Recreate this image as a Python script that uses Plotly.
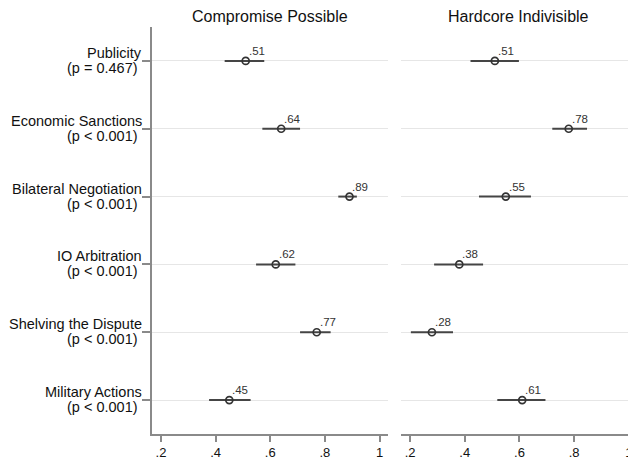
import plotly.graph_objects as go

cat_names = ["Publicity", "Economic Sanctions", "Bilateral Negotiation",
             "IO Arbitration", "Shelving the Dispute", "Military Actions"]
cat_pvals = ["(p = 0.467)", "(p < 0.001)", "(p < 0.001)",
             "(p < 0.001)", "(p < 0.001)", "(p < 0.001)"]
panel_titles = ["Compromise Possible", "Hardcore Indivisible"]

comp_est = [0.51, 0.64, 0.89, 0.62, 0.77, 0.45]
comp_lo = [0.433, 0.571, 0.849, 0.548, 0.709, 0.376]
comp_hi = [0.578, 0.709, 0.917, 0.692, 0.821, 0.528]
comp_lbl = [".51", ".64", ".89", ".62", ".77", ".45"]

hard_est = [0.51, 0.78, 0.55, 0.38, 0.28, 0.61]
hard_lo = [0.421, 0.720, 0.452, 0.288, 0.203, 0.519]
hard_hi = [0.598, 0.847, 0.642, 0.467, 0.357, 0.695]
hard_lbl = [".51", ".78", ".55", ".38", ".28", ".61"]

x_ticks = [0.2, 0.4, 0.6, 0.8, 1.0]
x_tick_labels = [".2", ".4", ".6", ".8", "1"]

FONT = "Liberation Sans, Arial, Helvetica, sans-serif"
ypos = list(range(1, len(cat_names) + 1))

fig = go.Figure()
annotations = []

def add_panel(est, lo, hi, lbl, xa, ya):
    fig.add_trace(go.Scatter(
        x=est, y=ypos, xaxis=xa, yaxis=ya, mode="markers",
        marker=dict(symbol="circle-open", size=7, color="#333333", line=dict(width=1.7)),
        error_x=dict(type="data", symmetric=False,
                     array=[h - e for h, e in zip(hi, est)],
                     arrayminus=[e - l for e, l in zip(est, lo)],
                     width=0, thickness=2, color="#454545"),
        showlegend=False, cliponaxis=False,
    ))
    for e, yv, t in zip(est, ypos, lbl):
        annotations.append(dict(text=t, x=e, y=yv, xref=xa, yref=ya,
                                xanchor="left", yanchor="bottom", xshift=1, yshift=2,
                                showarrow=False,
                                font=dict(family=FONT, size=11.5, color="#333")))

add_panel(comp_est, comp_lo, comp_hi, comp_lbl, "x", "y")
add_panel(hard_est, hard_lo, hard_hi, hard_lbl, "x2", "y2")

for yv, n, p in zip(ypos, cat_names, cat_pvals):
    annotations.append(dict(text=n, x=0, y=yv, xref="paper", yref="y",
                            xanchor="right", yanchor="middle", xshift=-8, yshift=8,
                            showarrow=False, font=dict(family=FONT, size=14.5, color="#111")))
    annotations.append(dict(text=p, x=0, y=yv, xref="paper", yref="y",
                            xanchor="right", yanchor="middle", xshift=-12, yshift=-7,
                            showarrow=False, font=dict(family=FONT, size=14.5, color="#111")))

axis_common = dict(tickvals=x_ticks, ticktext=x_tick_labels, showline=True,
                   linecolor="#8a8a8a", linewidth=1.5, ticks="outside", ticklen=6,
                   tickcolor="#8a8a8a", tickwidth=1.5, showgrid=False, zeroline=False,
                   automargin=False,
                   tickfont=dict(family=FONT, size=13, color="#111"))

annotations.append(dict(text=panel_titles[0], x=0.2438, y=1, xref="paper", yref="paper",
                        xanchor="center", yanchor="bottom", yshift=0, showarrow=False,
                        font=dict(family=FONT, size=16, color="#111")))
annotations.append(dict(text=panel_titles[1], x=0.7573, y=1, xref="paper", yref="paper",
                        xanchor="center", yanchor="bottom", yshift=0, showarrow=False,
                        font=dict(family=FONT, size=16, color="#111")))

# page body has an 8px margin: the figure is sized to fill the rest of the window
fig.update_layout(
    width=628, height=449,
    margin=dict(l=144, r=0, t=19, b=23),
    paper_bgcolor="white", plot_bgcolor="white",
    xaxis=dict(domain=[0, 0.4876], range=[0.167, 1.031], anchor="y", **axis_common),
    xaxis2=dict(domain=[0.5145, 1], range=[0.167, 1.026], anchor="y2", **axis_common),
    yaxis=dict(range=[6.5, 0.5], tickvals=ypos, showticklabels=False, showline=True,
               linecolor="#8a8a8a", linewidth=1.5, ticks="outside", ticklen=8,
               tickcolor="#8a8a8a", tickwidth=1.5, showgrid=True, gridcolor="#e6e6e6",
               gridwidth=1, zeroline=False, anchor="x", automargin=False),
    yaxis2=dict(range=[6.5, 0.5], tickvals=ypos, showticklabels=False, showline=False,
                ticks="", showgrid=True, gridcolor="#e6e6e6", gridwidth=1,
                zeroline=False, anchor="x2", automargin=False),
    annotations=annotations,
)

fig.write_html("out.html")
